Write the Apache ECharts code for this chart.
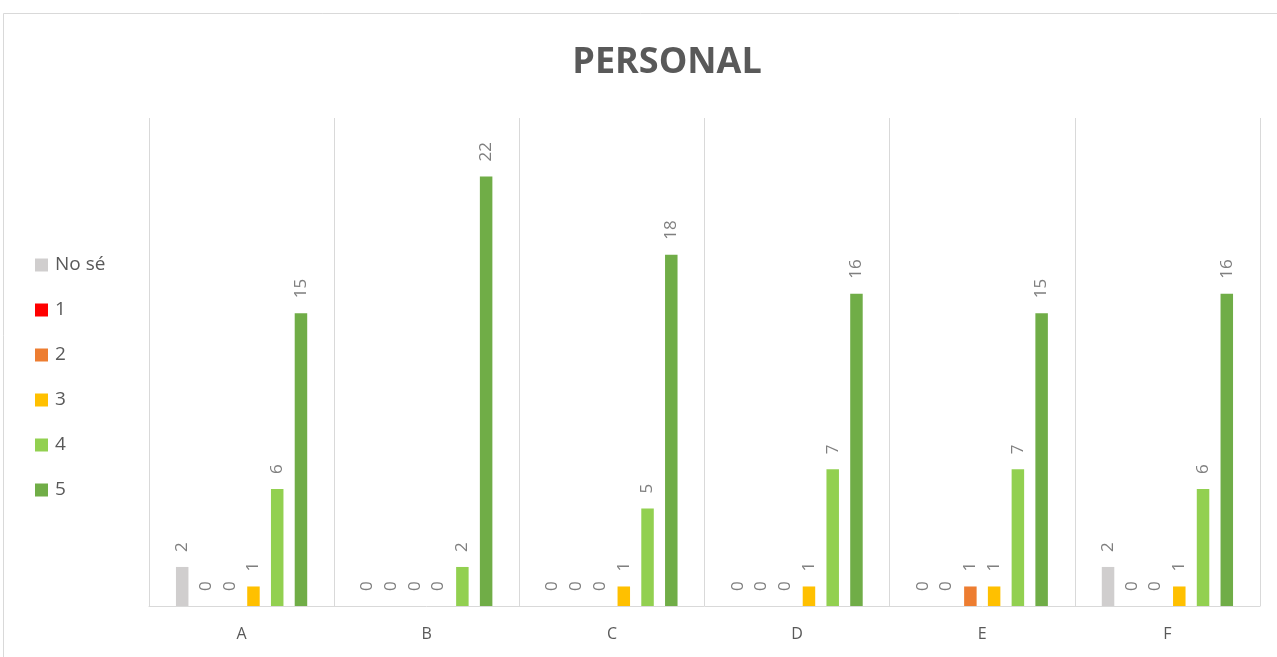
<!DOCTYPE html>
<html>
<head>
<meta charset="utf-8">
<script src="https://cdn.jsdelivr.net/npm/echarts@6/dist/echarts.min.js"></script>
<style>
  html, body { margin: 0; padding: 0; background: #fff; }
  #chart { width: 1277px; height: 657px; }
</style>
</head>
<body>
<div id="chart"></div>
<script>
// Categories and answer counts per rating
const categories = ['A', 'B', 'C', 'D', 'E', 'F'];
const seriesNames = ['No sé', '1', '2', '3', '4', '5'];
const noSe = [2, 0, 0, 0, 0, 2];
const r1 = [0, 0, 0, 0, 0, 0];
const r2 = [0, 0, 0, 0, 1, 0];
const r3 = [1, 0, 1, 1, 1, 1];
const r4 = [6, 2, 5, 7, 7, 6];
const r5 = [15, 22, 18, 16, 15, 16];
const colors = ['#D0CECE', '#FF0000', '#ED7D31', '#FFC000', '#92D050', '#70AD47'];

const values = [noSe, r1, r2, r3, r4, r5];
const textColor = '#595959';

const chart = echarts.init(document.getElementById('chart'), null, { renderer: 'canvas' });

chart.setOption({
  animation: false,
  backgroundColor: '#ffffff',
  title: {
    text: 'PERSONAL',
    left: 662,
    top: 40,
    textAlign: 'center',
    textStyle: {
      fontFamily: 'Open Sans',
      fontWeight: 'bold',
      fontSize: 36,
      color: textColor
    }
  },
  legend: {
    orient: 'vertical',
    left: 35,
    top: 255.5,
    padding: 0,
    icon: 'rect',
    itemWidth: 13,
    itemHeight: 13,
    itemGap: 26,
    textStyle: {
      fontFamily: 'Open Sans',
      fontSize: 19,
      lineHeight: 18,
      color: textColor,
      padding: [0, 0, 0, 2]
    },
    data: seriesNames
  },
  graphic: [{
    type: 'rect',
    silent: true,
    shape: { x: 3.5, y: 13.5, width: 1400, height: 800 },
    style: { fill: 'none', stroke: '#D9D9D9', lineWidth: 1 }
  }],
  grid: {
    left: 149,
    right: 17,
    top: 118,
    bottom: 51,
    containLabel: false
  },
  xAxis: {
    type: 'category',
    data: categories,
    boundaryGap: true,
    axisLine: { show: true, lineStyle: { color: '#D9D9D9', width: 1 } },
    axisTick: { show: false },
    splitLine: { show: true, interval: 0, lineStyle: { color: '#D9D9D9', width: 1 } },
    axisLabel: {
      fontFamily: 'Open Sans',
      fontSize: 16,
      color: textColor,
      margin: 20
    }
  },
  yAxis: {
    type: 'value',
    min: 0,
    max: 25,
    show: false,
    splitLine: { show: false }
  },
  series: seriesNames.map((name, i) => ({
    name: name,
    type: 'bar',
    data: values[i],
    barWidth: 12.5,
    barGap: '90%',
    itemStyle: { color: colors[i] },
    label: {
      show: true,
      position: 'top',
      rotate: 90,
      align: 'left',
      verticalAlign: 'middle',
      distance: 15,
      fontFamily: 'Open Sans',
      fontSize: 17,
      color: '#7F7F7F'
    }
  }))
});
</script>
</body>
</html>
